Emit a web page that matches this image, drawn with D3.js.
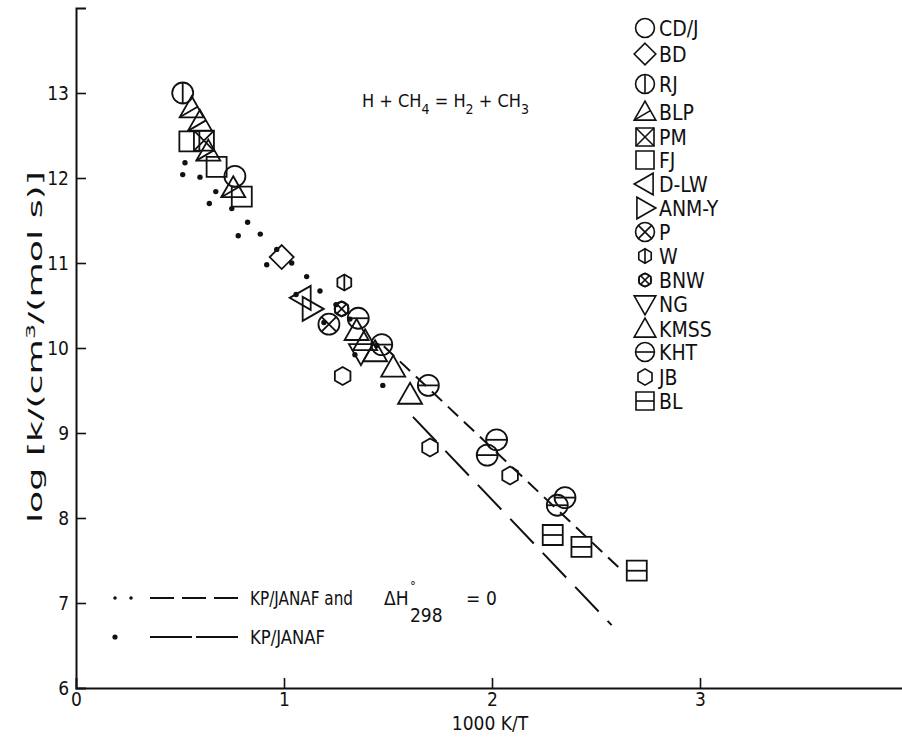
<!DOCTYPE html>
<html><head><meta charset="utf-8">
<script src="https://cdn.jsdelivr.net/npm/d3@7"></script>
<style>
html,body{margin:0;padding:0;background:#fff;}
svg{display:block;}
text{font-family:"Liberation Sans Narrow","DejaVu Sans Condensed","Liberation Sans",sans-serif;fill:#111;}
</style></head>
<body>
<svg id="chart" width="902" height="739"></svg>
<script>
// ---- data ----
const xTicks = [0, 1, 2, 3];
const yTicks = [6, 7, 8, 9, 10, 11, 12, 13];
const seriesNames = ["CD/J","BD","RJ","BLP","PM","FJ","D-LW","ANM-Y","P","W","BNW","NG","KMSS","KHT","JB","BL"];
const seriesShapes = ["circle","diamond","circleV","triBLP","squareX","square","triLeft","triRight","circleX","hexV","hexX","triDown","triUp","circleH","hex","squareH"];
const cdjX = [0.764], cdjY = [12.02];
const bdX = [0.989], bdY = [11.07];
const rjX = [0.513], rjY = [13.0];
const blpX = [0.556, 0.596, 0.636, 0.756], blpY = [12.82, 12.66, 12.31, 11.88];
const pmX = [0.615], pmY = [12.44];
const fjX = [0.545, 0.676, 0.797], fjY = [12.43, 12.13, 11.78];
const dlwX = [1.085], dlwY = [10.59];
const anmX = [1.133], anmY = [10.46];
const pX = [1.216], pY = [10.28];
const wX = [1.29], wY = [10.77];
const bnwX = [1.277], bnwY = [10.46];
const ngX = [1.37], ngY = [9.94];
const kmssX = [1.349, 1.39, 1.438, 1.525, 1.606], kmssY = [10.20, 10.08, 9.95, 9.77, 9.45];
const khtX = [1.357, 1.47, 1.694, 2.022, 1.977, 2.351, 2.314], khtY = [10.35, 10.04, 9.56, 8.92, 8.74, 8.24, 8.15];
const jbX = [1.282, 1.702, 2.087], jbY = [9.67, 8.83, 8.50];
const blX = [2.292, 2.43, 2.696], blY = [7.80, 7.66, 7.38];
const seriesX = [cdjX,bdX,rjX,blpX,pmX,fjX,dlwX,anmX,pX,wX,bnwX,ngX,kmssX,khtX,jbX,blX];
const seriesY = [cdjY,bdY,rjY,blpY,pmY,fjY,dlwY,anmY,pY,wY,bnwY,ngY,kmssY,khtY,jbY,blY];
// computed points (dots)
const dotsH0X = [0.524, 0.596, 0.672, 0.749, 0.825, 0.886, 0.965, 1.037, 1.109, 1.173, 1.25, 1.317, 1.446];
const dotsH0Y = [12.18, 12.01, 11.84, 11.64, 11.48, 11.34, 11.16, 11.00, 10.84, 10.67, 10.51, 10.34, 10.03];
const dotsKPX = [0.513, 0.641, 0.780, 0.917, 1.058, 1.192, 1.341, 1.475];
const dotsKPY = [12.04, 11.70, 11.32, 10.98, 10.63, 10.30, 9.92, 9.56];
// lines
const lineH0X = [1.48, 2.63], lineH0Y = [10.02, 7.37];
const lineKPX = [1.62, 2.575], lineKPY = [9.19, 6.74];

// ---- drawing ----
const svg = d3.select("#chart");
const x = d3.scaleLinear().domain([0, 4]).range([76, 908]);
const y = d3.scaleLinear().domain([6, 14]).range([688, 8]);

// axes
const gx = svg.append("g").attr("transform", `translate(0,${y(6)})`)
  .call(d3.axisBottom(x).tickValues(xTicks).tickSize(-10).tickPadding(5).tickFormat(d3.format("d")));
const gy = svg.append("g").attr("transform", `translate(${x(0)},0)`)
  .call(d3.axisLeft(y).tickValues(yTicks).tickSize(-10).tickPadding(7).tickFormat(d3.format("d")));
[gx, gy].forEach(g => {
  g.select(".domain").attr("stroke", "#111").attr("stroke-width", 2);
  g.selectAll(".tick line").attr("stroke", "#111").attr("stroke-width", 1.6);
  g.selectAll(".tick text").attr("font-size", 19).attr("fill", "#111")
    .style("font-family", '"Liberation Sans Narrow","DejaVu Sans Condensed",sans-serif');
});
gx.selectAll(".tick").filter(d => d === 0).select("line").remove();
gy.selectAll(".tick").filter(d => d === 6).select("line").remove();

// axis titles
svg.append("text").attr("x", 490).attr("y", 730).attr("text-anchor", "middle")
  .attr("font-size", 19).text("1000 K/T");
const yl = svg.append("text").attr("transform", "translate(42,347) rotate(-90)")
  .attr("text-anchor", "middle").attr("font-size", 20)
  .attr("textLength", 352).attr("lengthAdjust", "spacingAndGlyphs");
yl.append("tspan").text("log [k/(cm");
yl.append("tspan").attr("dy", -7).attr("font-size", 13).text("3");
yl.append("tspan").attr("dy", 7).text("/(mol s)]");

// title equation
const t = svg.append("text").attr("x", 362).attr("y", 107).attr("font-size", 18);
t.append("tspan").text("H + CH");
t.append("tspan").attr("dy", 7).attr("font-size", 14).text("4");
t.append("tspan").attr("dy", -7).text(" = H");
t.append("tspan").attr("dy", 7).attr("font-size", 14).text("2");
t.append("tspan").attr("dy", -7).text(" + CH");
t.append("tspan").attr("dy", 7).attr("font-size", 14).text("3");

// lines
const line = d3.line().x(d => x(d[0])).y(d => y(d[1]));
svg.append("path").datum(d3.zip(lineH0X, lineH0Y)).attr("d", line)
  .attr("fill", "none").attr("stroke", "#111").attr("stroke-width", 2).attr("stroke-dasharray", "14,8");
svg.append("path").datum(d3.zip(lineKPX, lineKPY)).attr("d", line)
  .attr("fill", "none").attr("stroke", "#111").attr("stroke-width", 2).attr("stroke-dasharray", "34,13");

// symbol drawing
function drawShape(g, shape) {
  const st = s => s.attr("fill", "none").attr("stroke", "#111").attr("stroke-width", 1.8);
  const poly = pts => st(g.append("polygon").attr("points", pts.map(p => p.join(",")).join(" ")));
  const ln = (a, b) => st(g.append("line").attr("x1", a[0]).attr("y1", a[1]).attr("x2", b[0]).attr("y2", b[1]));
  const R = 10.5;
  const hexPts = (r) => d3.range(6).map(i => [r * Math.cos(Math.PI / 3 * i - Math.PI / 2), r * Math.sin(Math.PI / 3 * i - Math.PI / 2)]);
  switch (shape) {
    case "circle": st(g.append("circle").attr("r", R)); break;
    case "circleV": st(g.append("circle").attr("r", R)); ln([0, -R], [0, R]); break;
    case "circleH": st(g.append("circle").attr("r", R)); ln([-R, 0], [R, 0]); break;
    case "circleX": { st(g.append("circle").attr("r", R)); const k = R * 0.707; ln([-k, -k], [k, k]); ln([-k, k], [k, -k]); break; }
    case "diamond": poly([[0, -12], [12, 0], [0, 12], [-12, 0]]); break;
    case "square": poly([[-10, -10], [10, -10], [10, 10], [-10, 10]]); break;
    case "squareX": poly([[-10, -10], [10, -10], [10, 10], [-10, 10]]); ln([-10, -10], [10, 10]); ln([-10, 10], [10, -10]); break;
    case "squareH": poly([[-10, -10], [10, -10], [10, 10], [-10, 10]]); ln([-10, 0], [10, 0]); break;
    case "triUp": poly([[0, -12], [12, 9], [-12, 9]]); break;
    case "triBLP": poly([[0, -12], [12, 9], [-12, 9]]); ln([-12, 9], [6, -1.5]); break;
    case "triDown": poly([[0, 12], [12, -9], [-12, -9]]); break;
    case "triLeft": poly([[-12, 0], [9, -12], [9, 12]]); break;
    case "triRight": poly([[12, 0], [-9, -12], [-9, 12]]); break;
    case "hex": poly(hexPts(9)); break;
    case "hexV": poly(hexPts(8)); ln([0, -8], [0, 8]); break;
    case "hexX": { poly(hexPts(7.5)); ln([-4.5, -4.5], [4.5, 4.5]); ln([-4.5, 4.5], [4.5, -4.5]); st(g.append("circle").attr("r", 7)); break; }
  }
}

// data symbols
seriesNames.forEach((name, i) => {
  const pts = d3.zip(seriesX[i], seriesY[i]);
  svg.append("g").attr("class", "series").selectAll("g").data(pts).join("g")
    .attr("transform", d => `translate(${x(d[0])},${y(d[1])})`)
    .each(function () { drawShape(d3.select(this), seriesShapes[i]); });
});

// dots
svg.append("g").selectAll("circle").data(d3.zip(dotsH0X, dotsH0Y)).join("circle")
  .attr("cx", d => x(d[0])).attr("cy", d => y(d[1])).attr("r", 2.7).attr("fill", "#111");
svg.append("g").selectAll("circle").data(d3.zip(dotsKPX, dotsKPY)).join("circle")
  .attr("cx", d => x(d[0])).attr("cy", d => y(d[1])).attr("r", 2.7).attr("fill", "#111");

// right legend
const legendRowY = [28, 54, 84, 112, 137, 160, 184, 208, 232, 256, 280, 304, 329, 352, 377, 401];
const lg = svg.append("g");
seriesNames.forEach((name, i) => {
  const g = lg.append("g").attr("transform", `translate(645,${legendRowY[i]})`);
  const sg = g.append("g").attr("transform", "scale(0.9)");
  drawShape(sg, seriesShapes[i]);
  g.append("text").attr("x", 14).attr("y", 7.5).attr("font-size", 21).text(name);
});

// bottom-left legend
const bl = svg.append("g");
bl.append("circle").attr("cx", 115).attr("cy", 598).attr("r", 1.8).attr("fill", "#111");
bl.append("circle").attr("cx", 131).attr("cy", 598).attr("r", 1.8).attr("fill", "#111");
bl.append("line").attr("x1", 150).attr("x2", 238).attr("y1", 598).attr("y2", 598)
  .attr("stroke", "#111").attr("stroke-width", 2).attr("stroke-dasharray", "24,8");
bl.append("text").attr("x", 250).attr("y", 605).attr("font-size", 19).attr("textLength", 103).attr("lengthAdjust", "spacingAndGlyphs").text("KP/JANAF and");
const eq = bl.append("text").attr("font-size", 19);
eq.append("tspan").attr("x", 384).attr("y", 605).text("ΔH");
eq.append("tspan").attr("x", 410).attr("y", 590).attr("font-size", 13).text("°");
eq.append("tspan").attr("x", 410).attr("y", 622).text("298");
eq.append("tspan").attr("x", 466).attr("y", 605).text("=");
eq.append("tspan").attr("x", 486).attr("y", 605).text("0");
bl.append("circle").attr("cx", 115).attr("cy", 637).attr("r", 2.6).attr("fill", "#111");
bl.append("line").attr("x1", 150).attr("x2", 238).attr("y1", 637).attr("y2", 637)
  .attr("stroke", "#111").attr("stroke-width", 2).attr("stroke-dasharray", "42,4");
bl.append("text").attr("x", 250).attr("y", 644).attr("font-size", 19).attr("textLength", 75).attr("lengthAdjust", "spacingAndGlyphs").text("KP/JANAF");
</script>
</body></html>
